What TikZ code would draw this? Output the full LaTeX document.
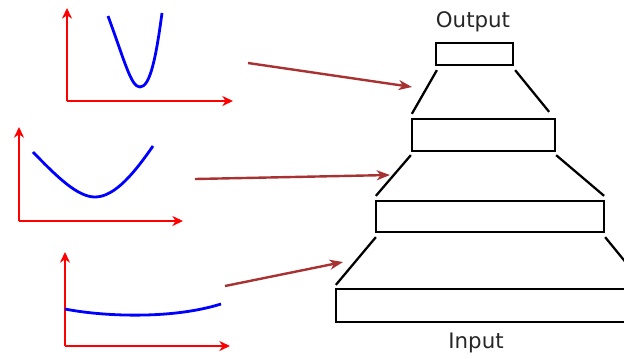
\documentclass[tikz,border=0pt]{standalone}
\usepackage{fontspec}
\setmainfont{DejaVu Sans}
\usetikzlibrary{arrows.meta,calc}
\definecolor{arrowred}{HTML}{A83232}
\begin{document}
\begin{tikzpicture}[x=0.75pt,y=-0.75pt,
  layerbox/.style={draw=black,line width=1.7pt,inner sep=0pt,fill=white},
  funnel/.style={draw=black,line width=1.7pt},
  axis/.style={draw=red,line width=1.8pt,-{Stealth[length=8pt,width=7.5pt,inset=2.5pt]}},
  curve/.style={draw=blue,line width=2.1pt},
  feed/.style={draw=arrowred,line width=1.8pt,-{Stealth[length=10pt,width=7.5pt,inset=3pt]}},
  lbl/.style={font=\fontsize{16}{19}\selectfont,text=black!85,inner sep=0pt}]
\useasboundingbox (0,0) rectangle (624,358);
\clip (0,0) rectangle (624,358);

% layer boxes
\node[layerbox,minimum width=57.75pt,minimum height=16.5pt] (b1) at (474.5,54) {};
\node[layerbox,minimum width=107.25pt,minimum height=24pt] (b2) at (483.5,135) {};
\node[layerbox,minimum width=171pt,minimum height=23.25pt] (b3) at (490,216.5) {};
\node[layerbox,minimum width=231pt,minimum height=24.75pt] (b4) at (490,305.5) {};

\node[lbl] (out) at (473,22) {Output};
\node[lbl] (in) at (476,343) {Input};

% funnel sides
\draw[funnel] ($(b1.south west)+(2,4)$) -- ($(b2.north west)+(1,-4)$);
\draw[funnel] ($(b1.south east)+(1,4)$) -- ($(b2.north east)+(-7,-6)$);
\draw[funnel] ($(b2.south west)+(0,3)$) -- ($(b3.north west)+(1,-4)$);
\draw[funnel] ($(b2.south east)+(0,3)$) -- ($(b3.north east)+(-1,-4)$);
\draw[funnel] ($(b3.south west)+(1,4)$) -- ($(b4.north west)+(1,-3)$);
\draw[funnel] ($(b3.south east)+(0,4)$) -- ($(b4.north east)+(-1,-3)$);

% plot 1
\coordinate (o1) at (67,101);
\coordinate (y1) at (67,8);
\coordinate (x1) at (233,101);
\draw[axis] (o1) -- (y1);
\draw[axis] (o1) -- (x1);
\draw[curve] (108,16) .. controls (125,62) and (131,87) .. (140,87)
  .. controls (150,87) and (156,58) .. (162,13);

% plot 2
\coordinate (o2) at (19,221);
\coordinate (y2) at (19,127);
\coordinate (x2) at (183,221);
\draw[axis] (o2) -- (y2);
\draw[axis] (o2) -- (x2);
\draw[curve] (33,152) .. controls (58,178) and (78,197) .. (95,197)
  .. controls (115,197) and (135,172) .. (153,146);

% plot 3
\coordinate (o3) at (65,346);
\coordinate (y3) at (65,252);
\coordinate (x3) at (230,346);
\draw[axis] (o3) -- (y3);
\draw[axis] (o3) -- (x3);
\draw[curve] (65,309) .. controls (100,316) and (170,320) .. (221,304);

% feed arrows
\coordinate (s1) at (248,63);
\coordinate (t1) at (412,87);
\coordinate (s2) at (195,179);
\coordinate (t2) at (390,175);
\coordinate (s3) at (225,286);
\coordinate (t3) at (343,262);
\draw[feed] (s1) -- (t1);
\draw[feed] (s2) -- (t2);
\draw[feed] (s3) -- (t3);
\end{tikzpicture}
\end{document}
